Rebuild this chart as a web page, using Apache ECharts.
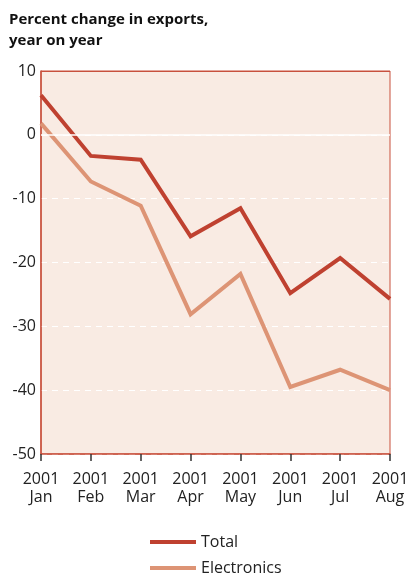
<!DOCTYPE html>
<html><head><meta charset="utf-8">
<script src="https://cdn.jsdelivr.net/npm/echarts@6/dist/echarts.min.js"></script>
<style>html,body{margin:0;padding:0;background:#fff}#c{width:413px;height:579px}</style>
</head><body><div id="c"></div>
<script>
const categories = ['2001\nJan','2001\nFeb','2001\nMar','2001\nApr','2001\nMay','2001\nJun','2001\nJul','2001\nAug'];
const totalValues = [6.2, -3.3, -3.9, -15.9, -11.5, -24.8, -19.3, -25.7];
const electronicsValues = [1.8, -7.3, -11.1, -28.1, -21.8, -39.5, -36.8, -40.0];
const yTicks = {min: -50, max: 10, interval: 10};
const FONT = 'Open Sans';
const RED = '#c8503d';
const chart = echarts.init(document.getElementById('c'));
const legendText = {fontFamily: FONT, fontSize: 16, color: '#222'};
chart.setOption({
  animation: false,
  title: {text: 'Percent change in exports,\nyear on year', left: 4, top: 4,
    textStyle: {fontFamily: FONT, fontWeight: 'bold', fontSize: 15, color: '#111', lineHeight: 21}},
  grid: {left: 41, right: 23, top: 71, bottom: 125, show: true, backgroundColor: '#f9ebe3', borderColor: RED, borderWidth: 1},
  legend: [
    {left: 145, top: 529, itemWidth: 46, itemHeight: 4, itemGap: 10, textStyle: legendText,
      data: [{name: 'Total', icon: 'rect'}]},
    {left: 145, top: 555, itemWidth: 46, itemHeight: 4, itemGap: 10, textStyle: legendText,
      data: [{name: 'Electronics', icon: 'rect'}]}
  ],
  xAxis: {type: 'category', data: categories, boundaryGap: false,
    axisLine: {show: true, onZero: false, lineStyle: {color: RED, width: 1.5}},
    axisTick: {show: true, interval: 0, length: 7, lineStyle: {color: '#333', width: 1.5}},
    axisLabel: {show: true, fontFamily: FONT, fontSize: 16, color: '#222', lineHeight: 18, margin: 16, interval: 0},
    splitLine: {show: false}},
  yAxis: {type: 'value', min: yTicks.min, max: yTicks.max, interval: yTicks.interval,
    axisLine: {show: true, lineStyle: {color: RED, width: 1.5}},
    axisTick: {show: false},
    axisLabel: {fontFamily: FONT, fontSize: 16, color: '#222', margin: 5},
    splitLine: {show: true, lineStyle: {color: '#ffffff', type: [6, 5], width: 1.2}}},
  series: [
    {name: 'Total', type: 'line', data: totalValues, symbol: 'none', z: 3,
      lineStyle: {color: '#bf4130', width: 4, join: 'miter'}, itemStyle: {color: '#bf4130'},
      markLine: {silent: true, symbol: 'none', label: {show: false},
        data: [
          {yAxis: 0, lineStyle: {color: '#ffffff', type: 'solid', width: 1.5}},
          {yAxis: 10, lineStyle: {color: RED, type: 'solid', width: 1.2}}
        ]}},
    {name: 'Electronics', type: 'line', data: electronicsValues, symbol: 'none', z: 2,
      lineStyle: {color: '#dd9475', width: 4, join: 'miter'}, itemStyle: {color: '#dd9475'}}
  ]
});
</script></body></html>
